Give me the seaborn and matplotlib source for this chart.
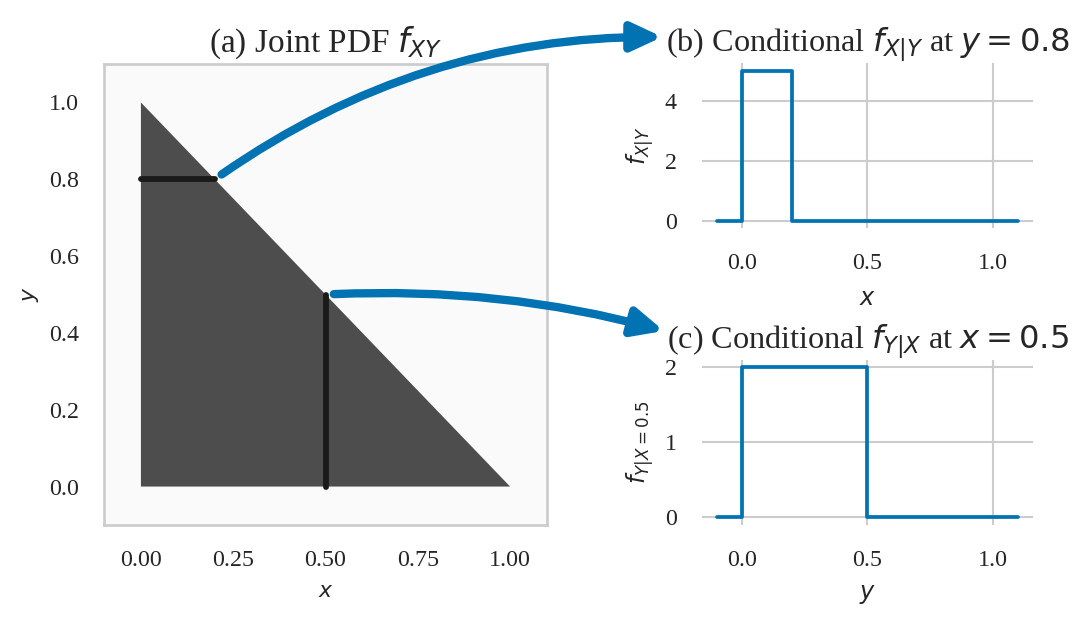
import matplotlib
matplotlib.use("Agg")
import matplotlib.pyplot as plt
from matplotlib.patches import ConnectionPatch
import seaborn as sns

# support of the joint pdf (triangle x + y <= 1)
tri_x = [0.0, 0.0, 1.0]
tri_y = [0.0, 1.0, 0.0]

# slices drawn on the joint pdf
slice_h_x = [0.0, 0.2]
slice_h_y = [0.8, 0.8]
slice_v_x = [0.5, 0.5]
slice_v_y = [0.0, 0.5]

# conditional f_{X|Y} at y = 0.8
cond_b_x = [-0.1, 0.0, 0.0, 0.2, 0.2, 1.1]
cond_b_f = [0.0, 0.0, 5.0, 5.0, 0.0, 0.0]

# conditional f_{Y|X} at x = 0.5
cond_c_y = [-0.1, 0.0, 0.0, 0.5, 0.5, 1.1]
cond_c_f = [0.0, 0.0, 2.0, 2.0, 0.0, 0.0]

BLUE = "#0173b2"

sns.set_theme(style="whitegrid", palette="colorblind")
plt.rcParams["font.family"] = ["Liberation Serif", "DejaVu Serif"]
plt.rcParams["mathtext.fontset"] = "dejavusans"
plt.rcParams["grid.color"] = "#cccccc"

TICK = 11.5
LAB = 11.5
TITLE = 15.5

fig = plt.figure(figsize=(7.26, 4.1467), dpi=150)
ax_a = fig.add_axes([0.0955, 0.156, 0.4068, 0.741])
ax_b = fig.add_axes([0.6446, 0.6334, 0.304, 0.2653])
ax_c = fig.add_axes([0.6446, 0.156, 0.304, 0.2653])

# (a) joint pdf
ax_a.set_facecolor("#fafafa")
ax_a.grid(False)
ax_a.fill(tri_x, tri_y, color="#4d4d4d", lw=0)
ax_a.plot(slice_h_x, slice_h_y, color="#1a1a1a", lw=2.8, solid_capstyle="round")
ax_a.plot(slice_v_x, slice_v_y, color="#1a1a1a", lw=2.8, solid_capstyle="round")
ax_a.set_xlim(-0.1, 1.1)
ax_a.set_ylim(-0.1, 1.1)
ax_a.set_xticks([0.0, 0.25, 0.5, 0.75, 1.0])
ax_a.set_xticklabels(["0.00", "0.25", "0.50", "0.75", "1.00"])
ax_a.set_yticks([0.0, 0.2, 0.4, 0.6, 0.8, 1.0])
ax_a.set_yticklabels(["0.0", "0.2", "0.4", "0.6", "0.8", "1.0"])
for sp in ax_a.spines.values():
    sp.set_visible(True)
    sp.set_color("#cccccc")
    sp.set_linewidth(1.3)
ax_a.set_xlabel("$x$", fontsize=LAB - 1, labelpad=6)
ax_a.set_ylabel("$y$", fontsize=LAB - 1, labelpad=4)
ax_a.set_title("(a) Joint PDF $f_{XY}$", fontsize=TITLE + 0.5, pad=6)

# (b) and (c) conditionals
sns.lineplot(x=cond_b_x, y=cond_b_f, ax=ax_b, color=BLUE, lw=1.8,
             estimator=None, sort=False)
sns.lineplot(x=cond_c_y, y=cond_c_f, ax=ax_c, color=BLUE, lw=1.8,
             estimator=None, sort=False)
ax_b.set_yticks([0, 2, 4])
ax_b.set_yticklabels(["0", "2", "4"])
ax_c.set_yticks([0, 1, 2])
ax_c.set_yticklabels(["0", "1", "2"])
for ax in (ax_b, ax_c):
    ax.set_xticks([0.0, 0.5, 1.0])
    ax.set_xticklabels(["0.0", "0.5", "1.0"])
    for sp in ax.spines.values():
        sp.set_visible(False)
ax_b.set_xlabel("$x$", fontsize=LAB, labelpad=7)
ax_b.set_ylabel("$f_{X|Y}$", fontsize=LAB, labelpad=5)
ax_b.set_title("(b) Conditional $f_{X|Y}$ at $y = 0.8$", fontsize=TITLE, pad=6)
ax_c.set_xlabel("$y$", fontsize=LAB, labelpad=6)
ax_c.set_ylabel("$f_{Y|X=0.5}$", fontsize=LAB, labelpad=5)
ax_c.set_title("(c) Conditional $f_{Y|X}$ at $x = 0.5$", fontsize=TITLE, pad=6)

for ax in (ax_a, ax_b, ax_c):
    ax.tick_params(axis="both", length=0, pad=12, labelsize=TICK,
                   colors="#262626")

# arrows from the slices to the conditional panels
arrow_kw = dict(arrowstyle="-|>,head_length=0.6,head_width=0.28",
                mutation_scale=20, color=BLUE, lw=4, shrinkB=0)
con1 = ConnectionPatch(xyA=(0.2, 0.8), coordsA=ax_a.transData,
                       xyB=(-0.12, 1.158), coordsB=ax_b.transAxes,
                       connectionstyle="arc3,rad=-0.16", shrinkA=4, **arrow_kw)
con2 = ConnectionPatch(xyA=(0.5, 0.5), coordsA=ax_a.transData,
                       xyB=(-0.115, 1.176), coordsB=ax_c.transAxes,
                       connectionstyle="arc3,rad=-0.08", shrinkA=4, **arrow_kw)
fig.add_artist(con1)
fig.add_artist(con2)

fig.savefig("out.png", dpi=150)
